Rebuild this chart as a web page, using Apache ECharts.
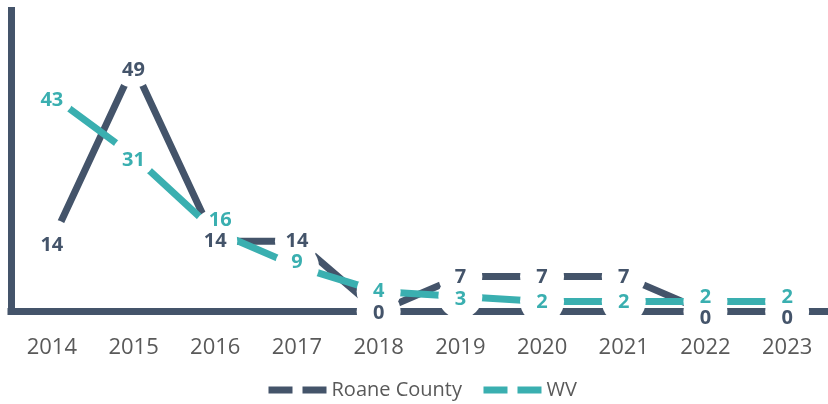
<!DOCTYPE html>
<html><head><meta charset="utf-8">
<script src="https://cdn.jsdelivr.net/npm/echarts@6/dist/echarts.min.js"></script>
<style>html,body{margin:0;padding:0;background:#fff}#c{width:828px;height:404px}</style>
</head><body><div id="c"></div>
<script>
// ---- data ----
const years = ['2014','2015','2016','2017','2018','2019','2020','2021','2022','2023'];
const roaneCounty = [14, 49, 14, 14, 0, 7, 7, 7, 0, 0];
const wvValues = [43, 31, 16, 9, 4, 3, 2, 2, 2, 2];
const seriesNames = ['Roane County', 'WV'];

// ---- layout tweaks for label placement (pixels) ----
const roaneLabelShift = [[0,4],[0,5],[0,0],[0,0],[0,2],[0,1],[0,1],[0,1],[0,7],[0,7]];
const wvLabelShift = [[0,5],[0,4],[5,-11],[0,-4],[0,0],[0,3],[0,1],[0,1],[0,-4],[0,-4]];

const DARK = '#44546A', TEAL = '#3AAFB0', GRAY = '#595959';
const FONT = '"Open Sans", "Noto Sans", sans-serif';

function lineSeries(name, vals, color) {
  return { name, type: 'line', data: vals, z: 2, symbol: 'none', silent: true,
    lineStyle: { color, width: 7, cap: 'butt', join: 'miter' }, itemStyle: { color },
    emphasis: { disabled: true } };
}
function maskSeries(vals) {
  return { name: '_m', type: 'scatter', data: vals, z: 3, symbol: 'circle', symbolSize: 44,
    silent: true, itemStyle: { color: '#ffffff', opacity: 1 }, emphasis: { disabled: true } };
}
function labelSeries(vals, shift, color) {
  return { name: '_l', type: 'scatter', z: 4, symbol: 'circle', symbolSize: 1, silent: true,
    itemStyle: { color: 'rgba(0,0,0,0)', opacity: 1 }, emphasis: { disabled: true },
    data: vals.map((v, i) => ({ value: v, label: { offset: shift[i] } })),
    label: { show: true, position: 'inside', color, fontFamily: FONT, fontWeight: 'bold', fontSize: 20,
      formatter: p => String(p.value) } };
}

const chart = echarts.init(document.getElementById('c'), null, { renderer: 'canvas' });
chart.setOption({
  animation: false,
  backgroundColor: '#ffffff',
  grid: { left: 11, top: 10.5, width: 820, height: 301, containLabel: false },
  xAxis: { type: 'category', data: years, boundaryGap: true,
    axisLine: { lineStyle: { color: DARK, width: 7, cap: 'square' } },
    axisTick: { show: false },
    axisLabel: { color: GRAY, fontSize: 22, fontFamily: FONT, margin: 25 } },
  yAxis: { type: 'value', min: 0, max: 60, interval: 10,
    axisLine: { show: true, lineStyle: { color: DARK, width: 7, cap: 'square' } },
    axisTick: { show: false }, axisLabel: { show: false }, splitLine: { show: false } },
  legend: { data: seriesNames, left: 265, top: 380, padding: 0, itemWidth: 58, itemHeight: 14, itemGap: 18,
    itemStyle: { opacity: 0 },
    lineStyle: { width: 7, type: [24, 10], cap: 'butt' },
    textStyle: { color: GRAY, fontSize: 20, fontFamily: FONT } },
  series: [
    lineSeries(seriesNames[0], roaneCounty, DARK),
    lineSeries(seriesNames[1], wvValues, TEAL),
    maskSeries(roaneCounty),
    maskSeries(wvValues),
    labelSeries(roaneCounty, roaneLabelShift, DARK),
    labelSeries(wvValues, wvLabelShift, TEAL)
  ]
});
</script></body></html>
